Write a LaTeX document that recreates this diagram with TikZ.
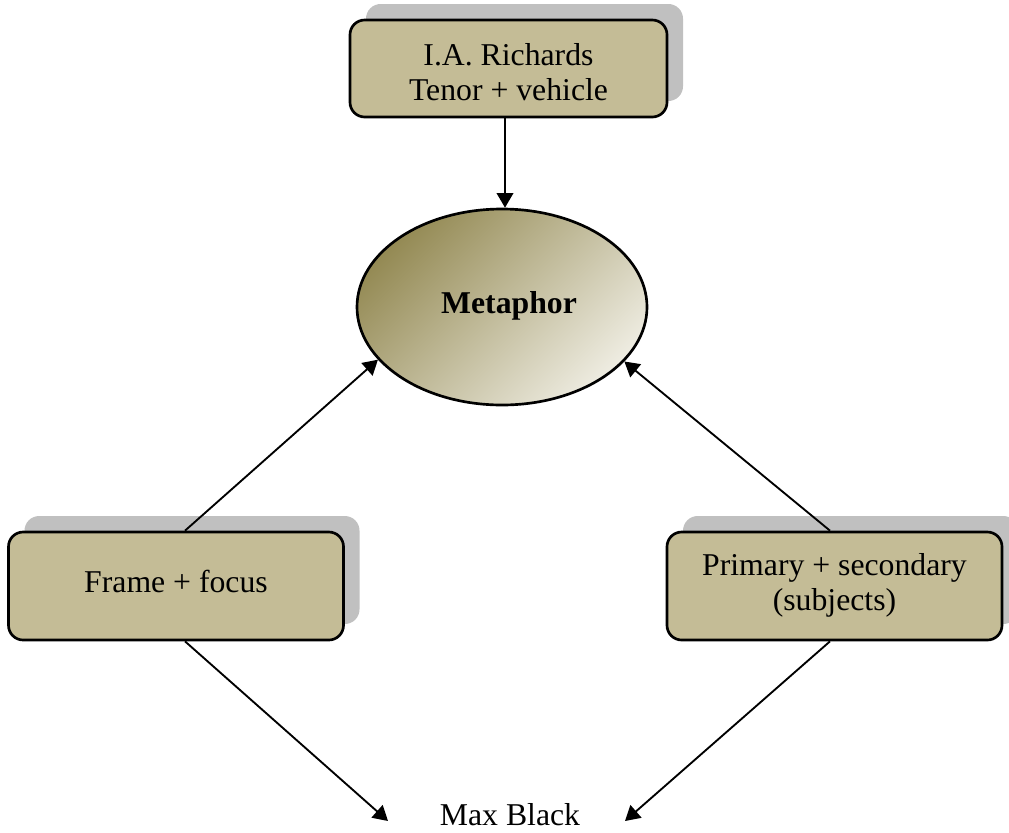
\documentclass[tikz,border=0pt]{standalone}
\usepackage{fontspec}
\setmainfont{Liberation Serif}
\usetikzlibrary{shapes.geometric,shadows,arrows.meta,calc}

\definecolor{boxfill}{RGB}{196,188,150}
\definecolor{shadowgray}{RGB}{192,192,192}
\definecolor{olivedark}{RGB}{148,138,84}
\definecolor{olivelight}{RGB}{238,236,225}

\tikzset{
  diagtext/.style={font=\fontsize{23.8}{26.25}\selectfont},
  tanbox/.style={diagtext, draw=black, line width=2pt, fill=boxfill,
    rounded corners=11pt, align=center, inner sep=0pt,
    general shadow={fill=shadowgray, shadow xshift=12pt, shadow yshift=12pt}},
  bubble/.style={ellipse, draw=black, line width=2pt, inner sep=0pt,
    top color=olivedark, bottom color=olivelight, shading angle=45,
    font=\fontsize{23.8}{26.25}\selectfont\bfseries},
  arr/.style={line width=1.4pt, -{Triangle[length=11pt,width=12.5pt]}}
}

\begin{document}
\begin{tikzpicture}[x=0.75pt, y=-0.75pt]
  \useasboundingbox (0,0) rectangle (1009,832);

  % boxes and the central ellipse
  \node[tanbox, minimum width=237.75pt, minimum height=72.75pt,
        text height=47.25pt, text depth=0pt] (ir) at (508.5,68.5)
        {I.A. Richards\\Tenor + vehicle};
  \node[bubble, minimum width=217.5pt, minimum height=147pt,
        text height=16pt, text depth=7pt] (met) at (502,307)
        {\hspace*{10.5pt}Metaphor};
  \node[tanbox, minimum width=251.25pt, minimum height=81pt,
        text height=16pt, text depth=7pt] (ff) at (176,586) {Frame + focus};
  \node[tanbox, minimum width=251.25pt, minimum height=81pt,
        text height=43pt, text depth=7pt] (ps) at (834.5,586)
        {Primary + secondary\\(subjects)};
  \node[diagtext, anchor=base, inner sep=0pt] (mb) at (510,825) {Max Black};

  % arrow ends beside the label
  \coordinate (mbl) at (388,821);
  \coordinate (mbr) at (625,821);

  % connectors
  \draw[arr] ($(ir.south)+(-3.5,0)$) -- ($(met.north)+(3,0)$);
  \draw[arr] ($(ff.north)+(9,0)$) -- (met.203.9);
  \draw[arr] ($(ps.north)+(-4.5,0)$) -- (met.336.3);
  \draw[arr] ($(ff.south)+(9,0)$) -- (mbl);
  \draw[arr] ($(ps.south)+(-4.5,0)$) -- (mbr);
\end{tikzpicture}
\end{document}
